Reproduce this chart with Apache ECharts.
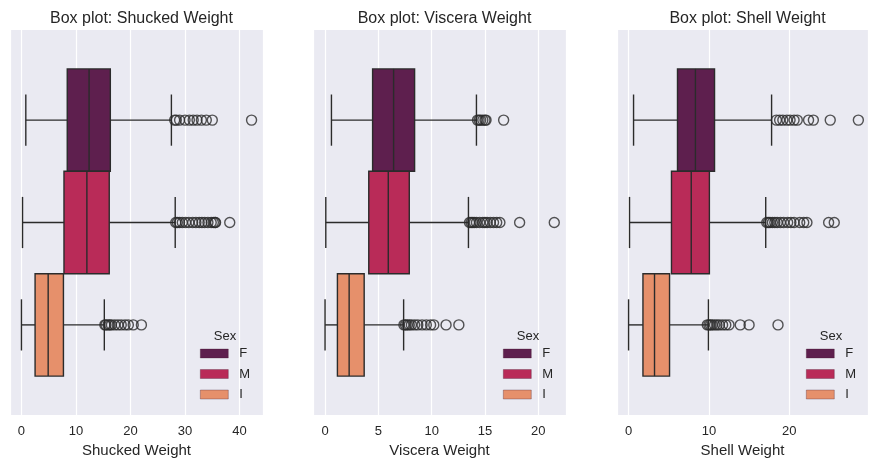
<!DOCTYPE html>
<html><head><meta charset="utf-8">
<script src="https://cdn.jsdelivr.net/npm/echarts@6/dist/echarts.min.js"></script>
<style>html,body{margin:0;padding:0;background:#fff}#c{width:879px;height:468px}</style>
</head><body><div id="c"></div>
<script>
const categories = ['F', 'M', 'I'];
const panelTitles = ['Box plot: Shucked Weight', 'Box plot: Viscera Weight', 'Box plot: Shell Weight'];
const axisNames = ['Shucked Weight', 'Viscera Weight', 'Shell Weight'];
const legendTitle = 'Sex';

// [lower whisker, Q1, median, Q3, upper whisker] for F, M, I
const shuckedStats = [[0.8, 8.4, 12.4, 16.3, 27.5], [0.2, 7.8, 12.0, 16.1, 28.2], [0.0, 2.5, 4.9, 7.7, 15.2]];
const visceraStats = [[0.6, 4.46, 6.43, 8.4, 14.2], [0.07, 4.1, 5.93, 7.9, 13.45], [0.0, 1.16, 2.26, 3.67, 7.37]];
const shellStats = [[0.62, 6.09, 8.32, 10.7, 17.8], [0.12, 5.34, 7.8, 10.06, 17.07], [0.0, 1.79, 3.23, 5.1, 9.94]];

// outliers
const shuckedOutF = [28.1, 28.4, 29.0, 30.0, 30.8, 31.5, 32.2, 33.0, 33.9, 35.0, 42.2];
const shuckedOutM = [28.3, 28.6, 29.0, 29.5, 30.1, 30.7, 31.4, 32.0, 32.6, 33.1, 33.6, 34.2, 34.8, 35.2, 35.5, 35.6, 38.2];
const shuckedOutI = [15.3, 15.5, 15.9, 16.2, 16.5, 17.1, 17.7, 18.3, 19.0, 19.6, 20.5, 22.0];
const visceraOutF = [14.3, 14.45, 14.6, 14.8, 15.0, 15.1, 16.75];
const visceraOutM = [13.55, 13.7, 13.85, 14.0, 14.2, 14.5, 14.8, 15.0, 15.2, 15.5, 15.8, 16.1, 16.4, 18.25, 21.5];
const visceraOutI = [7.4, 7.55, 7.7, 7.9, 8.1, 8.4, 8.7, 9.1, 9.5, 9.9, 10.2, 11.35, 12.55];
const shellOutF = [18.4, 18.8, 19.2, 19.7, 20.1, 20.6, 21.0, 22.4, 23.0, 25.1, 28.6];
const shellOutM = [17.2, 17.4, 17.6, 17.9, 18.2, 18.5, 18.9, 19.3, 19.8, 20.2, 20.6, 21.3, 21.8, 22.2, 24.9, 25.6];
const shellOutI = [9.8, 10.0, 10.2, 10.4, 10.7, 11.0, 11.3, 11.7, 12.1, 12.5, 13.9, 15.0, 18.6];

// tick label step per panel (0, 10, 20 ... / 0, 5, 10 ...)
const xTickStep = [10, 5, 10];
const xSplitNumber = [5, 5, 3];

const statsByPanel = [shuckedStats, visceraStats, shellStats];
const outByPanel = [[shuckedOutF, shuckedOutM, shuckedOutI], [visceraOutF, visceraOutM, visceraOutI], [shellOutF, shellOutM, shellOutI]];

// layout / style
const colors = ['#5e1f4e', '#b92b58', '#e6906b'];
const lineColor = '#2b2b2b';
const textColor = '#262626';
const font = 'Liberation Sans, Arial, sans-serif';
const grids = [
  { left: 10, width: 253, top: 30, height: 385, xmin: -2.1, xmax: 44.3, legendLeft: 200 },
  { left: 313, width: 253, top: 30, height: 385, xmin: -1.13, xmax: 22.6, legendLeft: 503 },
  { left: 617, width: 251, top: 30, height: 385, xmin: -1.44, xmax: 29.8, legendLeft: 806 }
];

function renderBox(params, api) {
  const cat = api.value(0);
  const lo = api.value(1), q1 = api.value(2), med = api.value(3), q3 = api.value(4), hi = api.value(5);
  const p = api.coord([q1, cat]);
  const yc = p[1];
  const half = api.size([0, 0.5])[1];
  const cap = half / 2;
  const xLo = api.coord([lo, cat])[0];
  const xQ1 = p[0];
  const xMed = api.coord([med, cat])[0];
  const xQ3 = api.coord([q3, cat])[0];
  const xHi = api.coord([hi, cat])[0];
  const ls = { stroke: lineColor, lineWidth: 1.4 };
  return {
    type: 'group',
    children: [
      { type: 'line', shape: { x1: xLo, y1: yc, x2: xQ1, y2: yc }, style: ls },
      { type: 'line', shape: { x1: xQ3, y1: yc, x2: xHi, y2: yc }, style: ls },
      { type: 'line', shape: { x1: xLo, y1: yc - cap, x2: xLo, y2: yc + cap }, style: ls },
      { type: 'line', shape: { x1: xHi, y1: yc - cap, x2: xHi, y2: yc + cap }, style: ls },
      { type: 'rect', shape: { x: xQ1, y: yc - half, width: xQ3 - xQ1, height: 2 * half },
        style: { fill: api.visual('color'), stroke: lineColor, lineWidth: 1.4 } },
      { type: 'line', shape: { x1: xMed, y1: yc - half, x2: xMed, y2: yc + half }, style: ls }
    ]
  };
}

const option = {
  backgroundColor: '#ffffff',
  animation: false,
  textStyle: { fontFamily: font },
  title: [],
  legend: [],
  grid: [],
  xAxis: [],
  yAxis: [],
  series: []
};

grids.forEach((g, p) => {
  option.grid.push({ left: g.left, width: g.width, top: g.top, height: g.height, show: true,
    backgroundColor: '#eaeaf2', borderWidth: 0, containLabel: false });
  option.title.push({ text: panelTitles[p], left: g.left + g.width / 2, top: 6, textAlign: 'center',
    textStyle: { fontSize: 16, fontWeight: 'normal', color: textColor, fontFamily: font } });
  option.title.push({ text: legendTitle, left: g.legendLeft + 20, top: 325, textAlign: 'center',
    textStyle: { fontSize: 13, fontWeight: 'normal', color: textColor, fontFamily: font } });
  option.legend.push({ data: categories, orient: 'vertical', left: g.legendLeft, top: 347,
    icon: 'rect', itemWidth: 28, itemHeight: 9, itemGap: 7.5, padding: 0,
    itemStyle: { borderColor: 'rgba(60,20,40,0.5)', borderWidth: 0.6 },
    textStyle: { fontSize: 13, color: textColor, fontFamily: font, padding: [0, 0, 0, 6] },
    selectedMode: false });
  option.xAxis.push({ type: 'value', gridIndex: p, min: g.xmin, max: g.xmax, splitNumber: xSplitNumber[p],
    name: axisNames[p], nameLocation: 'middle', nameGap: 28,
    nameTextStyle: { fontSize: 15, color: textColor, fontFamily: font },
    axisLine: { show: false }, axisTick: { show: false },
    axisLabel: { fontSize: 13, color: textColor, margin: 10, showMinLabel: false, showMaxLabel: false,
      fontFamily: font,
      formatter: v => (Math.abs(v / xTickStep[p] - Math.round(v / xTickStep[p])) < 1e-6 ? String(v) : '') },
    splitLine: { show: true, lineStyle: { color: '#ffffff', width: 1.2 } } });
  option.yAxis.push({ type: 'value', gridIndex: p, min: -0.88, max: 2.88, inverse: true, show: false,
    splitLine: { show: false } });
  categories.forEach((c, ci) => {
    option.series.push({ type: 'custom', name: c, xAxisIndex: p, yAxisIndex: p,
      itemStyle: { color: colors[ci] },
      renderItem: renderBox, encode: { x: [1, 2, 3, 4, 5], y: 0 },
      data: [[ci].concat(statsByPanel[p][ci])], z: 2 });
    option.series.push({ type: 'scatter', name: 'outliers', xAxisIndex: p, yAxisIndex: p,
      symbol: 'circle', symbolSize: 10,
      itemStyle: { color: 'rgba(0,0,0,0)', borderColor: lineColor, borderWidth: 1.4 },
      data: outByPanel[p][ci].map(v => [v, ci]), z: 3 });
  });
});

const chart = echarts.init(document.getElementById('c'), null, { renderer: 'canvas' });
chart.setOption(option);
</script>
</body></html>
